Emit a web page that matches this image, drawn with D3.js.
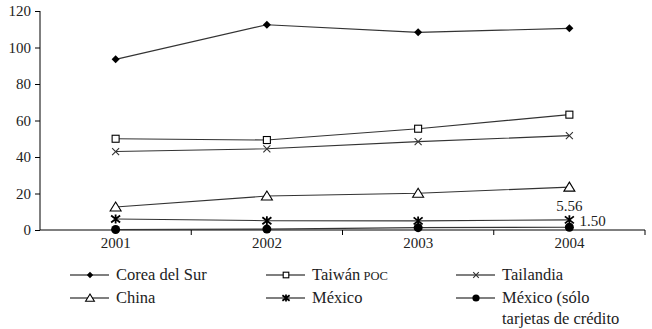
<!DOCTYPE html>
<html>
<head>
<meta charset="utf-8">
<script src="https://cdn.jsdelivr.net/npm/d3@7"></script>
<style>
  body { margin: 0; background: #fff; }
  svg { display: block; }
  svg text { font-family: "Liberation Serif", "DejaVu Serif", serif; }
</style>
</head>
<body>
<svg id="chart" width="652" height="329"></svg>
<script>
// data
var years = ['2001', '2002', '2003', '2004'];
var yTicks = [0, 20, 40, 60, 80, 100, 120];

var corea = [93.5, 112.5, 108.3, 110.5];
var taiwan = [50, 49.3, 55.5, 63.2];
var tailandia = [43, 44.5, 48.4, 51.7];
var china = [12.6, 18.6, 20.1, 23.5];
var mexico = [6, 5.1, 5, 5.56];
var mexicoCredito = [0.3, 0.5, 1.3, 1.5];

var series = [
  { name: 'Corea del Sur', values: corea, marker: 'diamond' },
  { name: 'Taiwán', small: 'POC', values: taiwan, marker: 'square' },
  { name: 'Tailandia', values: tailandia, marker: 'x' },
  { name: 'China', values: china, marker: 'triangle' },
  { name: 'México', values: mexico, marker: 'star' },
  { name: 'México (sólo', name2: 'tarjetas de crédito', values: mexicoCredito, marker: 'dot' }
];

var svg = d3.select('#chart');

var x = d3.scaleBand().domain(years).range([40, 645]);
var y = d3.scaleLinear().domain([0, 120]).range([230, 11]);

// y axis
var yAxis = svg.append('g')
  .attr('transform', 'translate(40,0)')
  .call(d3.axisLeft(y).tickValues(yTicks).tickSize(5).tickPadding(4));
yAxis.attr('font-family', null).attr('font-size', null);
yAxis.selectAll('text').attr('font-size', 15).attr('fill', '#222');
yAxis.selectAll('line, path').attr('stroke', '#000');
yAxis.select('.domain').attr('d', 'M0,' + y(120) + 'V' + y(0));

// x axis, ticks at the band edges
var xg = svg.append('g').attr('transform', 'translate(0,' + y(0) + ')');
xg.append('line').attr('x1', 40).attr('x2', 645).attr('stroke', '#000');
xg.selectAll('.tk').data(years).enter().append('line')
  .attr('x1', d => x(d) + x.bandwidth()).attr('x2', d => x(d) + x.bandwidth())
  .attr('y1', 0).attr('y2', 5).attr('stroke', '#000');
xg.selectAll('text').data(years).enter().append('text')
  .attr('x', d => x(d) + x.bandwidth() / 2)
  .attr('y', 18)
  .attr('text-anchor', 'middle')
  .attr('font-size', 15)
  .attr('fill', '#222')
  .text(d => d);

function drawMarker(g, type, k) {
  k = k || 1;
  if (type === 'diamond') {
    g.append('path').attr('d', 'M0,-4L4,0L0,4L-4,0Z').attr('fill', '#000');
  } else if (type === 'square') {
    g.append('rect').attr('x', -3.5).attr('y', -3.5).attr('width', 7).attr('height', 7)
      .attr('fill', '#fff').attr('stroke', '#000').attr('stroke-width', 1.1 / k);
  } else if (type === 'x') {
    g.append('path').attr('d', 'M-3.5,-3.5L3.5,3.5M-3.5,3.5L3.5,-3.5').attr('stroke', '#333').attr('stroke-width', 1.1 / k);
  } else if (type === 'triangle') {
    g.append('path').attr('d', 'M0,-5L5.5,4L-5.5,4Z')
      .attr('fill', '#fff').attr('stroke', '#000').attr('stroke-width', 1.1 / k);
  } else if (type === 'star') {
    g.append('path').attr('d', 'M-4.5,-3.5L4.5,3.5M-4.5,3.5L4.5,-3.5M0,-4.5V4.5')
      .attr('stroke', '#000').attr('stroke-width', 1.8 / k);
  } else if (type === 'dot') {
    g.append('circle').attr('r', 4.5).attr('fill', '#000');
  }
  g.attr('transform', (g.attr('transform') || '') + ' scale(' + k + ')');
}

var line = d3.line()
  .x((d, i) => x(years[i]) + x.bandwidth() / 2)
  .y(d => y(d));

series.forEach(function (s) {
  svg.append('path')
    .datum(s.values)
    .attr('d', line)
    .attr('fill', 'none')
    .attr('stroke', '#333')
    .attr('stroke-width', 1.1);
});

series.forEach(function (s) {
  s.values.forEach(function (v, i) {
    var g = svg.append('g')
      .attr('transform', 'translate(' + (x(years[i]) + x.bandwidth() / 2) + ',' + y(v) + ')');
    drawMarker(g, s.marker, 1);
  });
});

// value labels on 2004
var xLast = x('2004') + x.bandwidth() / 2;
svg.append('text').attr('x', xLast).attr('y', y(mexico[3]) - 9)
  .attr('text-anchor', 'middle').attr('font-size', 15).attr('fill', '#222')
  .text(mexico[3].toFixed(2));
svg.append('text').attr('x', xLast + 10).attr('y', y(mexicoCredito[3]) - 1)
  .attr('font-size', 15).attr('fill', '#222')
  .text(mexicoCredito[3].toFixed(2));

// legend
var legCols = [70, 266, 456];
var legRows = [275, 298];
series.forEach(function (s, i) {
  var lx = legCols[i % 3];
  var ly = legRows[Math.floor(i / 3)];
  var g = svg.append('g').attr('transform', 'translate(' + lx + ',' + ly + ')');
  g.append('line').attr('x1', 0).attr('x2', 39).attr('stroke', '#000').attr('stroke-width', 1.1);
  var m = g.append('g').attr('transform', 'translate(20,0)');
  drawMarker(m, s.marker, 0.8);
  var t = g.append('text').attr('x', 46).attr('y', 5).attr('font-size', 16.5).attr('fill', '#222');
  t.append('tspan').text(s.name);
  if (s.small) t.append('tspan').attr('font-size', 12.5).text(' ' + s.small);
  if (s.name2) {
    g.append('text').attr('x', 46).attr('y', 26).attr('font-size', 16.5).attr('fill', '#222').text(s.name2);
  }
});
</script>
</body>
</html>
